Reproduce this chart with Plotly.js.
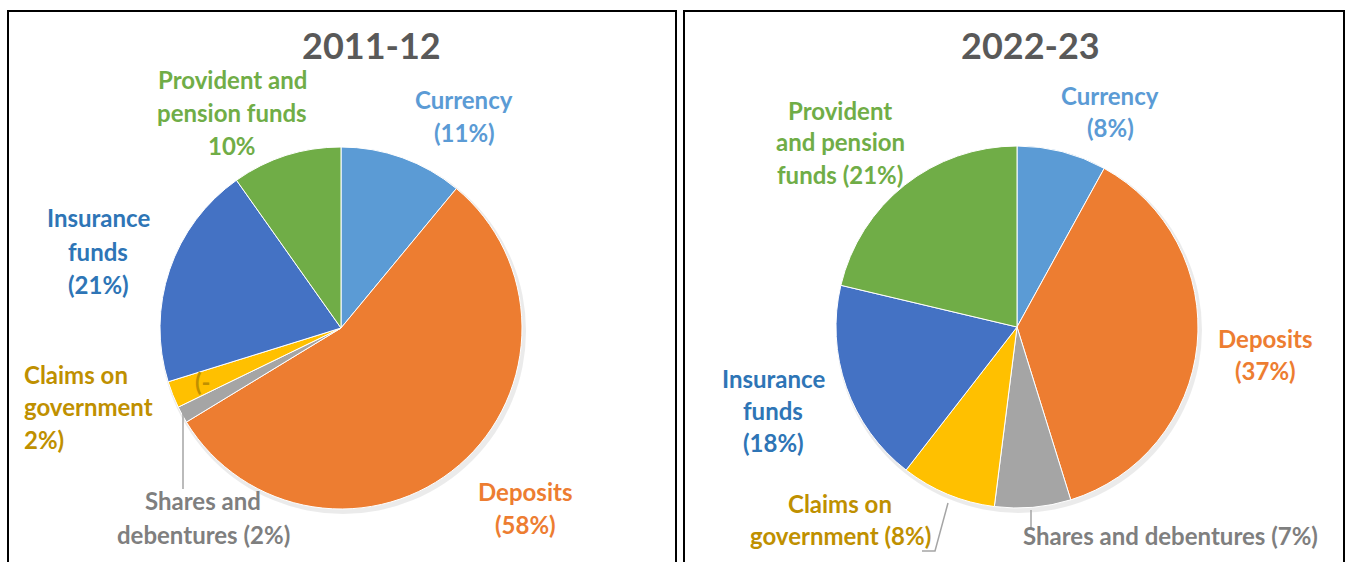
<!DOCTYPE html>
<html><head><meta charset="utf-8">
<script src="https://cdn.plot.ly/plotly-3.0.1.min.js"></script>
<style>html,body{margin:0;padding:0;background:#fff}#chart{width:1349px;height:562px}</style>
</head><body><div id="chart"></div>
<script>
// ---- data ----
const categories = ['Currency','Deposits','Shares and debentures','Claims on government','Insurance funds','Provident and pension funds'];
const values2011 = [11, 55.3, 1.5, 2.4, 20, 9.8];
const values2022 = [8, 37.2, 6.8, 8.5, 18.2, 21.3];
const titles = ['2011-12', '2022-23'];
const labels2011 = [
  ['Currency','(11%)'],
  ['Deposits','(58%)'],
  ['Shares and','debentures (2%)'],
  ['Claims on','government','2%)'],
  ['Insurance','funds','(21%)'],
  ['Provident and','pension funds','10%']
];
const labels2022 = [
  ['Currency','(8%)'],
  ['Deposits','(37%)'],
  ['Shares and debentures (7%)'],
  ['Claims on','government (8%)'],
  ['Insurance','funds','(18%)'],
  ['Provident','and pension','funds (21%)']
];
const sliceColors = ['#5B9BD5','#ED7D31','#A5A5A5','#FFC000','#4472C4','#70AD47'];
const labelColors = ['#5B9BD5','#ED7D31','#7F7F7F','#BF9000','#2E75B6','#70AD47'];

// ---- layout helpers ----
const W = 1349, H = 562;
const px = x => x / W;
const py = y => 1 - y / H;
const FONT = 'Lato, "Open Sans", sans-serif';
const LABEL_SIZE = 24;

function pieTrace(values, cx, cy, r) {
  return {
    type: 'pie', values: values, labels: categories, sort: false,
    direction: 'clockwise', rotation: 0, textinfo: 'none', hoverinfo: 'label+percent',
    marker: {colors: sliceColors, line: {color: '#ffffff', width: 1}},
    domain: {x: [px(cx - r), px(cx + r)], y: [py(cy + r), py(cy - r)]},
    showlegend: false
  };
}
function shadowTrace(cx, cy, r) {
  return {
    type: 'pie', values: [1], labels: ['s'], textinfo: 'none', hoverinfo: 'skip',
    marker: {colors: ['rgba(0,0,0,0.08)'], line: {width: 0}},
    domain: {x: [px(cx - r), px(cx + r)], y: [py(cy + r), py(cy - r)]},
    showlegend: false
  };
}

// label placement: [x, y of first line, line gap, anchor]
const pos2011 = [
  [464, 99, 33, 'center'],
  [525, 491, 33, 'center'],
  [203, 500, 34, 'center'],
  [22, 374, 32.5, 'left'],
  [98, 218, 33, 'center'],
  [232, 80, 33, 'center']
];
const pos2022 = [
  [1110, 95, 33, 'center'],
  [1265, 338, 32, 'center'],
  [1170, 535, 33, 'center'],
  [840, 503, 32, 'center'],
  [773, 378, 32, 'center'],
  [840, 110, 32, 'center']
];

const annotations = [];
function addLabels(labels, pos) {
  labels.forEach((lines, i) => {
    const [x, y0, gap, anchor] = pos[i];
    lines.forEach((t, j) => {
      annotations.push({
        xref: 'paper', yref: 'paper', x: px(x), y: py(y0 + j * gap),
        xanchor: anchor, yanchor: 'middle', showarrow: false, text: '<b>' + t + '</b>',
        font: {family: FONT, size: LABEL_SIZE, color: labelColors[i]}
      });
    });
  });
}
addLabels(labels2011, pos2011);
addLabels(labels2022, pos2022);
// truncated fragment present in the original chart
annotations.push({xref:'paper', yref:'paper', x: px(193), y: py(381), xanchor:'left', yanchor:'middle',
  showarrow:false, text:'<b>(-</b>', font:{family: FONT, size: LABEL_SIZE, color: labelColors[3]}});
// titles
[[371, titles[0]], [1030, titles[1]]].forEach(([x, t]) => annotations.push({
  xref:'paper', yref:'paper', x: px(x), y: py(45), xanchor:'center', yanchor:'middle', showarrow:false,
  text:'<b>' + t + '</b>', font:{family: FONT, size: 36, color:'#595959'}
}));

const shapes = [
  {type:'rect', xref:'paper', yref:'paper', x0:px(8), x1:px(676), y0:py(575), y1:py(11), line:{color:'#000', width:2}},
  {type:'rect', xref:'paper', yref:'paper', x0:px(684), x1:px(1344), y0:py(575), y1:py(11), line:{color:'#000', width:2}},
  // leader lines
  {type:'line', xref:'paper', yref:'paper', x0:px(183), y0:py(413), x1:px(183), y1:py(489), line:{color:'#A5A5A5', width:1.5}},
  {type:'path', xref:'paper', yref:'paper',
   path:'M ' + px(948) + ' ' + py(503) + ' L ' + px(935) + ' ' + py(551) + ' L ' + px(922) + ' ' + py(551),
   line:{color:'#A5A5A5', width:1.5}},
  {type:'line', xref:'paper', yref:'paper', x0:px(1031), x1:px(1031), y0:py(510), y1:py(528), line:{color:'#A5A5A5', width:1.5}}
];

const data = [
  shadowTrace(343, 331, 183),
  pieTrace(values2011, 341, 328, 181),
  shadowTrace(1019, 330, 183),
  pieTrace(values2022, 1017, 327, 181)
];
const layout = {
  width: W, height: H, margin: {l:0, r:0, t:0, b:0},
  paper_bgcolor:'#fff', plot_bgcolor:'#fff',
  annotations: annotations, shapes: shapes, showlegend: false
};
Plotly.newPlot('chart', data, layout, {displayModeBar:false, staticPlot:true});
</script></body></html>
